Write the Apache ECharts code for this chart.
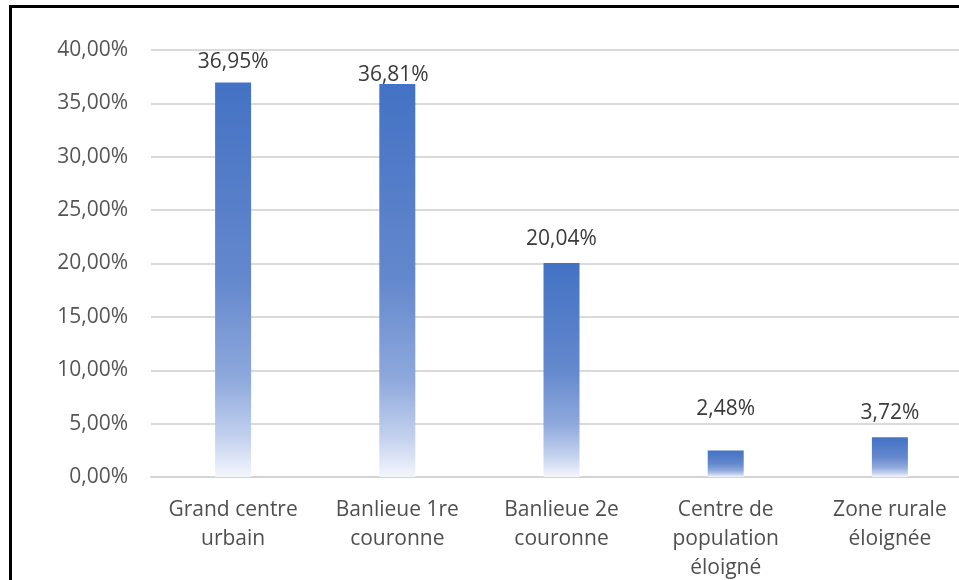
<!DOCTYPE html>
<html>
<head>
<meta charset="utf-8">
<script src="https://cdn.jsdelivr.net/npm/echarts@6/dist/echarts.min.js"></script>
<style>
  html, body { margin: 0; padding: 0; background: #ffffff; overflow: hidden; }
  /* the plot runs a little past the right edge of the frame */
  #chart { width: 975px; height: 580px; }
</style>
</head>
<body>
<div id="chart"></div>
<script>
// Répartition par type de zone (en %)
const categories = [
  'Grand centre\nurbain',
  'Banlieue 1re\ncouronne',
  'Banlieue 2e\ncouronne',
  'Centre de\npopulation\néloigné',
  'Zone rurale\néloignée'
];
const shares = [36.95, 36.81, 20.04, 2.48, 3.72];
const yMin = 0;
const yMax = 40;
const yStep = 5;

// hand-placed value labels: [dx, dy] shift from the default spot above each bar
const labelShift = [[0, -2], [-4, 9], [0, -6], [0, -23], [0, -6]];

const fmtPct = v => v.toFixed(2).replace('.', ',') + '%';
const FONT = '"Open Sans", "Noto Sans", sans-serif';

const chart = echarts.init(document.getElementById('chart'), null, { renderer: 'canvas' });

chart.setOption({
  animation: false,
  backgroundColor: '#ffffff',
  grid: {
    left: 151, right: 3, top: 50, bottom: 103,
    containLabel: false,
    outerBoundsMode: 'none'
  },
  xAxis: {
    type: 'category',
    data: categories,
    axisLine: { show: true, lineStyle: { color: '#D4D4D4', width: 2 } },
    axisTick: { show: false },
    axisLabel: {
      interval: 0,
      color: '#4F4F4F',
      fontFamily: FONT,
      fontSize: 21,
      lineHeight: 29,
      margin: 19
    }
  },
  yAxis: {
    type: 'value',
    min: yMin,
    max: yMax,
    interval: yStep,
    axisLine: { show: false },
    axisTick: { show: false },
    splitLine: { lineStyle: { color: '#DADADA', width: 2 } },
    axisLabel: {
      color: '#555555',
      fontFamily: FONT,
      fontSize: 21,
      margin: 23,
      formatter: fmtPct
    }
  },
  series: [{
    type: 'bar',
    data: shares.map((v, i) => ({
      value: v,
      label: { offset: labelShift[i] }
    })),
    barWidth: 36,
    itemStyle: {
      color: new echarts.graphic.LinearGradient(0, 0, 0, 1, [
        { offset: 0, color: '#4472C4' },
        { offset: 0.5, color: '#6488CD' },
        { offset: 0.75, color: '#8EA8DC' },
        { offset: 0.9, color: '#C3D1EE' },
        { offset: 1, color: '#F4F6FC' }
      ])
    },
    label: {
      show: true,
      position: 'top',
      distance: 8,
      color: '#3A3A3A',
      fontFamily: FONT,
      fontSize: 21,
      formatter: p => fmtPct(p.value)
    }
  }],
  graphic: [{
    type: 'polyline',
    silent: true,
    z: 100,
    shape: { points: [[10.5, 580], [10.5, 6.5], [975, 6.5]] },
    style: { stroke: '#000000', lineWidth: 3, fill: null }
  }]
});
</script>
</body>
</html>
